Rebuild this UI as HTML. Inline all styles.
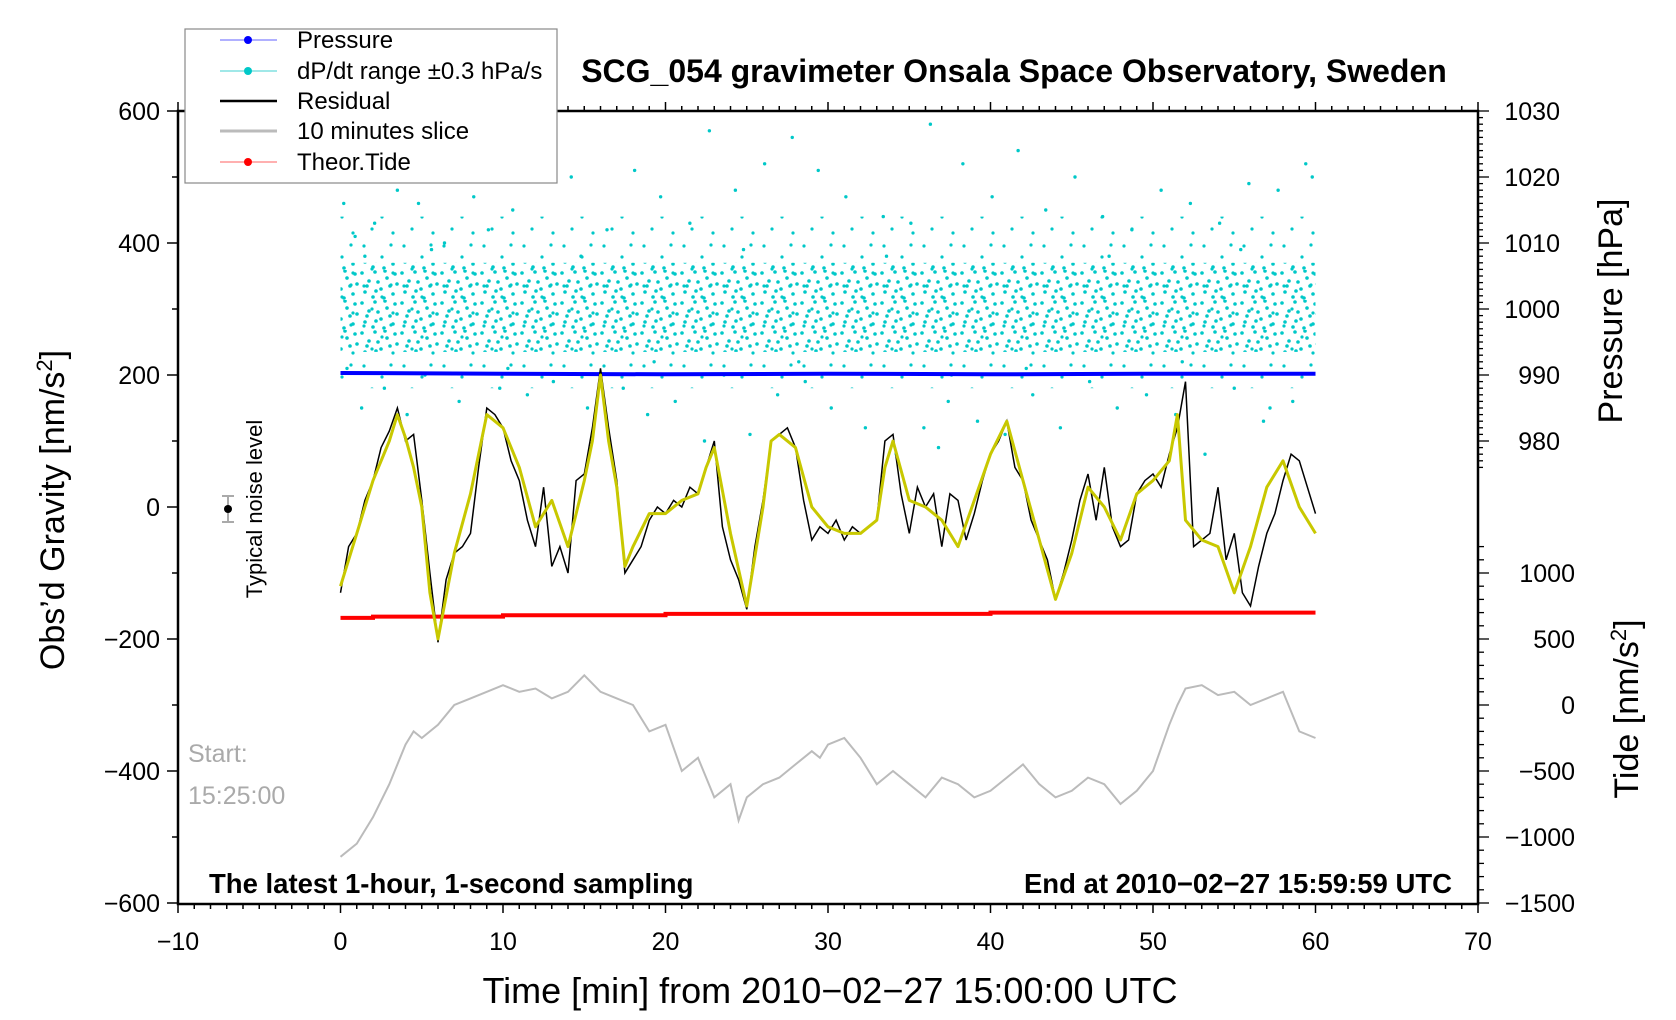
<!DOCTYPE html>
<html><head><meta charset="utf-8"><style>
html,body{margin:0;padding:0;background:#fff}
svg{display:block;font-family:"Liberation Sans",sans-serif}
</style></head><body>
<svg id="chart" width="1676" height="1020" viewBox="0 0 1676 1020" xmlns="http://www.w3.org/2000/svg">
<defs>
<pattern id="dots" width="40" height="30" patternUnits="userSpaceOnUse">
<g fill="#00c8c8">
<circle cx="2" cy="3" r="1.8"/><circle cx="9" cy="11" r="1.8"/><circle cx="15" cy="2" r="1.8"/><circle cx="21" cy="19" r="1.8"/>
<circle cx="27" cy="8" r="1.8"/><circle cx="33" cy="24" r="1.8"/><circle cx="37" cy="14" r="1.8"/><circle cx="5" cy="22" r="1.8"/>
<circle cx="13" cy="27" r="1.8"/><circle cx="24" cy="28" r="1.8"/><circle cx="30" cy="16" r="1.8"/><circle cx="18" cy="12" r="1.8"/>
<circle cx="35" cy="4" r="1.8"/><circle cx="7" cy="16" r="1.8"/><circle cx="25" cy="1" r="1.8"/><circle cx="16" cy="21" r="1.8"/>
</g></pattern>
<pattern id="dots2" width="40" height="40" patternUnits="userSpaceOnUse">
<g fill="#00c8c8">
<circle cx="4" cy="6" r="1.6"/><circle cx="22" cy="17" r="1.6"/><circle cx="33" cy="33" r="1.6"/><circle cx="12" cy="29" r="1.6"/><circle cx="31" cy="5" r="1.6"/>
</g></pattern>
</defs>
<g id="plot"></g>
<g id="axes"></g>
<text x="1014" y="82" font-size="32" font-weight="bold" text-anchor="middle">SCG_054 gravimeter Onsala Space Observatory, Sweden</text>
<text x="209" y="893" font-size="27.5" font-weight="bold">The latest 1-hour, 1-second sampling</text>
<text x="1452" y="893" font-size="27.5" font-weight="bold" text-anchor="end">End at 2010−02−27 15:59:59 UTC</text>
<text x="830" y="1003" font-size="36" text-anchor="middle">Time [min] from 2010−02−27 15:00:00 UTC</text>
<text transform="translate(64,510) rotate(-90)" font-size="34" text-anchor="middle">Obs’d Gravity [nm/s<tspan font-size="22" dy="-12">2</tspan><tspan dy="12">]</tspan></text>
<text transform="translate(1622,311) rotate(-90)" font-size="34" text-anchor="middle">Pressure [hPa]</text>
<text transform="translate(1638,709) rotate(-90)" font-size="34" text-anchor="middle">Tide [nm/s<tspan font-size="22" dy="-12">2</tspan><tspan dy="12">]</tspan></text>
<text transform="translate(262,509) rotate(-90)" font-size="22" text-anchor="middle">Typical noise level</text>
<g>
<line x1="228" y1="496" x2="228" y2="522" stroke="#aaa" stroke-width="2"/>
<line x1="222" y1="496" x2="234" y2="496" stroke="#aaa" stroke-width="2"/>
<line x1="222" y1="522" x2="234" y2="522" stroke="#aaa" stroke-width="2"/>
<circle cx="228" cy="509" r="4" fill="#000"/>
</g>
<text x="188" y="762" font-size="25" fill="#aaa">Start:</text>
<text x="188" y="804" font-size="25" fill="#aaa">15:25:00</text>
<g>
<rect x="185" y="29" width="372" height="154" fill="#fff" stroke="#888" stroke-width="1.2"/>
<g><line x1="220" y1="40" x2="277" y2="40" stroke="#6060ff" stroke-width="1"/><circle cx="248" cy="40" r="4" fill="#0000ff"/><text x="297" y="48" font-size="24">Pressure</text></g>
<g><line x1="220" y1="71" x2="277" y2="71" stroke="#40d0d0" stroke-width="1"/><circle cx="248" cy="71" r="4" fill="#00c8c8"/><text x="297" y="79" font-size="24">dP/dt range ±0.3 hPa/s</text></g>
<g><line x1="220" y1="101" x2="277" y2="101" stroke="#000" stroke-width="2.5"/><text x="297" y="109" font-size="24">Residual</text></g>
<g><line x1="220" y1="131" x2="277" y2="131" stroke="#bbb" stroke-width="3"/><text x="297" y="139" font-size="24">10 minutes slice</text></g>
<g><line x1="220" y1="162" x2="277" y2="162" stroke="#ff6060" stroke-width="1"/><circle cx="248" cy="162" r="4" fill="#ff0000"/><text x="297" y="170" font-size="24">Theor.Tide</text></g>
</g>
</svg>
<script>
// ---- data ----
const residualT = [0,0.5,1,1.5,2,2.5,3,3.5,4,4.5,5,5.5,6,6.5,7,7.5,8,8.5,9,9.5,10,10.5,11,11.5,12,12.5,13,13.5,14,14.5,15,15.5,16,16.5,17,17.5,18,18.5,19,19.5,20,20.5,21,21.5,22,22.5,23,23.5,24,24.5,25,25.5,26,26.5,27,27.5,28,28.5,29,29.5,30,30.5,31,31.5,32,32.5,33,33.5,34,34.5,35,35.5,36,36.5,37,37.5,38,38.5,39,39.5,40,40.5,41,41.5,42,42.5,43,43.5,44,44.5,45,45.5,46,46.5,47,47.5,48,48.5,49,49.5,50,50.5,51,51.5,52,52.5,53,53.5,54,54.5,55,55.5,56,56.5,57,57.5,58,58.5,59,59.5,60];
const residualV = [-130,-60,-40,10,40,90,115,150,100,110,10,-100,-205,-110,-70,-60,-40,60,150,140,120,70,40,-20,-60,30,-90,-60,-100,40,50,120,210,120,40,-100,-80,-60,-20,0,-10,10,0,30,20,60,100,-30,-80,-110,-155,-60,10,100,110,120,90,10,-50,-30,-40,-20,-50,-30,-40,-30,-20,100,110,20,-40,30,0,20,-60,20,10,-50,-10,40,80,100,130,60,40,-20,-50,-80,-140,-100,-50,10,50,-20,60,-30,-60,-50,20,40,50,30,80,120,190,-60,-50,-40,30,-80,-40,-130,-150,-90,-40,-10,40,80,70,30,-10,-50,-40];
const smoothT = [0,1,2,3,3.5,4,4.5,5,5.5,6,7,8,9,10,11,12,13,14,15,15.5,16,16.5,17,17.5,18,19,20,21,22,22.5,23,24,25,26,26.5,27,28,29,30,31,32,33,33.5,34,35,36,37,38,39,40,41,42,43,44,45,46,47,48,49,50,51,51.5,52,53,54,55,56,57,58,59,60];
const smoothV = [-120,-40,40,100,140,105,60,0,-130,-200,-70,20,140,120,60,-30,10,-60,40,100,200,100,30,-90,-60,-10,-10,10,20,60,90,-40,-150,0,100,110,90,0,-30,-40,-40,-20,60,100,10,0,-20,-60,10,80,130,40,-50,-140,-70,30,0,-50,20,40,70,140,-20,-50,-60,-130,-60,30,70,0,-40];
const sliceT = [0,1,2,3,4,4.5,5,6,7,8,9,10,11,12,13,14,15,16,17,18,19,20,21,22,23,24,24.5,25,26,27,28,29,29.5,30,31,32,33,33.5,34,35,36,37,38,39,40,41,42,43,44,45,46,47,48,49,50,51,51.5,52,53,54,55,56,57,58,59,60];
const sliceV = [-530,-510,-470,-420,-360,-340,-350,-330,-300,-290,-280,-270,-280,-275,-290,-280,-255,-280,-290,-300,-340,-330,-400,-380,-440,-420,-475,-440,-420,-410,-390,-370,-380,-360,-350,-380,-420,-410,-400,-420,-440,-410,-420,-440,-430,-410,-390,-420,-440,-430,-410,-420,-450,-430,-400,-330,-300,-275,-270,-285,-280,-300,-290,-280,-340,-350];
const pressureT = [0,10,20,30,40,50,60];
const pressureV = [990.3,990.2,990.1,990.2,990.1,990.2,990.2];
const tideT = [0,2,2,10,10,20,20,40,40,60];
const tideV = [660,660,670,670,680,680,690,690,700,700];
const dpdtT = [0.2,0.4,0.9,1.3,2.1,2.7,3.5,4.1,4.8,5.2,6.4,7.3,8.2,9.1,9.8,10.6,11.5,12.3,13.1,14.2,15.2,16.4,17.4,18.1,18.9,19.7,20.6,21.5,22.4,22.7,23.6,24.3,25.2,26.1,26.9,27.8,28.6,29.4,30.2,31.1,32.3,33.4,34.2,35.1,35.9,36.3,36.8,37.4,38.3,39.2,40.1,40.9,41.7,42.6,43.4,44.3,45.2,46.1,46.9,47.8,48.7,49.6,50.5,51.4,52.3,53.2,54.1,55.0,55.9,56.8,57.7,58.6,59.4,59.8,1.5,5.6,10.3,14.8,19.3,24.8,28.2,33.6,37.6,42.2,47.3,51.8,55.4,57.2];
const dpdtV = [460,210,410,150,430,180,480,140,460,200,400,160,470,420,180,450,170,520,190,500,150,420,180,510,140,470,160,430,100,570,200,480,110,520,170,560,190,510,150,470,120,440,80,430,120,580,90,160,520,130,470,110,540,170,450,120,500,190,440,150,420,170,480,140,460,80,430,180,490,130,480,160,520,500,380,390,210,380,220,390,220,380,200,210,380,220,390,150];
const xTicks = [-10,0,10,20,30,40,50,60,70];
const yTicks = [-600,-400,-200,0,200,400,600];
const pTicks = [980,990,1000,1010,1020,1030];
const tTicks = [-1500,-1000,-500,0,500,1000];

// ---- scales ----
const L=178,R=1478,T=111,B=904;
const xs = t => L + (t+10)*(R-L)/80;
const ys = v => 507 - v*0.66;
const ps = p => ys(600-(1030-p)*10);
const ts = v => ys(-300 + v*0.2);
const NS='http://www.w3.org/2000/svg';
const plot=document.getElementById('plot'), axes=document.getElementById('axes');
function mk(tag, attrs, parent){const e=document.createElementNS(NS,tag);for(const k in attrs)e.setAttribute(k,attrs[k]);parent.appendChild(e);return e;}
function pathOf(T,V,f){return T.map((t,i)=>(i?'L':'M')+xs(t).toFixed(1)+','+f(V[i]).toFixed(1)).join('');}

const band2=mk('rect',{x:xs(0),y:ys(440),width:xs(60)-xs(0),height:ys(180)-ys(440),fill:'url(#dots2)'},plot);


const band=mk('rect',{x:xs(0),y:ys(370),width:xs(60)-xs(0),height:ys(235)-ys(370),fill:'url(#dots)'},plot);


dpdtT.forEach((t,i)=>{
  const c=mk('circle',{cx:xs(t),cy:ys(dpdtV[i]),r:1.7,fill:'#00c8c8'},plot);
  
  
});
const pl=mk('path',{d:pathOf(pressureT,pressureV,ps),stroke:'#0000ff','stroke-width':4,fill:'none'},plot);


const tl=mk('path',{d:pathOf(tideT,tideV,ts),stroke:'#ff0000','stroke-width':4,fill:'none'},plot);


const sl=mk('path',{d:pathOf(sliceT,sliceV,ys),stroke:'#bbb','stroke-width':2,fill:'none'},plot);


const rl=mk('path',{d:pathOf(residualT,residualV,ys),stroke:'#000','stroke-width':1.5,fill:'none'},plot);


const yl=mk('path',{d:pathOf(smoothT,smoothV,ys),stroke:'#c8c800','stroke-width':3,fill:'none','stroke-linejoin':'round'},plot);



const fr=mk('rect',{x:L,y:T,width:R-L,height:B-T,fill:'none',stroke:'#000','stroke-width':2.5},axes);


for(let m=-10;m<=70;m++){
  const big=(m%10===0), len=big?9:5;
  mk('line',{x1:xs(m),y1:B,x2:xs(m),y2:B+len,stroke:'#000','stroke-width':1.5},axes);
  mk('line',{x1:xs(m),y1:T,x2:xs(m),y2:T-len,stroke:'#000','stroke-width':1.5},axes);
}
xTicks.forEach(v=>{
  const tx=mk('text',{x:xs(v),y:950,'font-size':25,'text-anchor':'middle'},axes);
  tx.textContent=String(v).replace('-','−');
  
  
});
for(let v=-600;v<=600;v+=100){mk('line',{x1:L,y1:ys(v),x2:L-(v%200===0?11:6),y2:ys(v),stroke:'#000','stroke-width':1.5},axes);}
yTicks.forEach(v=>{
  const tx=mk('text',{x:L-18,y:ys(v)+9,'font-size':25,'text-anchor':'end'},axes);
  tx.textContent=String(v).replace('-','−');
  
  
});
for(let p=976;p<=1030;p++){mk('line',{x1:R,y1:ps(p),x2:R+(p%10===0?11:5),y2:ps(p),stroke:'#000','stroke-width':1.3},axes);}
pTicks.forEach(v=>{
  const tx=mk('text',{x:1560,y:ps(v)+9,'font-size':25,'text-anchor':'end'},axes);
  tx.textContent=String(v);
  
  
});
for(let v=-1500;v<=1200;v+=100){mk('line',{x1:R,y1:ts(v),x2:R+(v%500===0?11:6),y2:ts(v),stroke:'#000','stroke-width':1.3},axes);}
tTicks.forEach(v=>{
  const tx=mk('text',{x:1575,y:ts(v)+9,'font-size':25,'text-anchor':'end'},axes);
  tx.textContent=String(v).replace('-','−');
  
  
});
</script>
</body></html>
